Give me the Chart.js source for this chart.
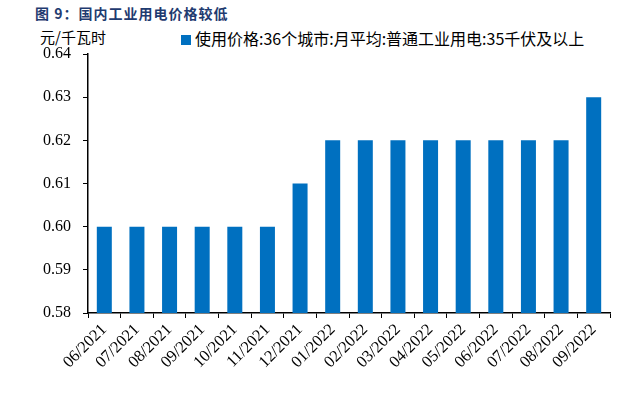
<!DOCTYPE html>
<html lang="zh">
<head>
    <meta charset="utf-8">
    <title>国内工业用电价格较低</title>
    <script src="https://cdn.jsdelivr.net/npm/chart.js@4/dist/chart.umd.min.js"></script>
    <style>
        body { margin: 0; background: #fff; }
        #wrap { position: relative; width: 630px; height: 395px; overflow: hidden; }
        #title { position: absolute; left: 35px; top: 3px; font: bold 14px "Noto Sans CJK SC"; color: #1f3b70; letter-spacing: 1px; }
        #unit { position: absolute; left: 40px; top: 26px; font: 15px "Noto Sans CJK SC"; color: #000; }
        #legend { position: absolute; left: 181px; top: 26px; font: 16px "Noto Sans CJK SC"; color: #000; white-space: nowrap; }
        #legend span { display: inline-block; width: 10px; height: 10px; background: #0070C0; margin-right: 4px; }
        canvas { position: absolute; left: 0; top: 0; }
    </style>
</head>
<body>
<div id="wrap">
    <div id="title">图 9：国内工业用电价格较低</div>
    <div id="unit">元/千瓦时</div>
    <div id="legend"><span></span>使用价格:36个城市:月平均:普通工业用电:35千伏及以上</div>
    <canvas id="myChart" width="630" height="395"></canvas>
</div>
<script>
var months = ['06/2021', '07/2021', '08/2021', '09/2021', '10/2021', '11/2021', '12/2021',
    '01/2022', '02/2022', '03/2022', '04/2022', '05/2022', '06/2022', '07/2022', '08/2022', '09/2022'];
var prices = [0.60, 0.60, 0.60, 0.60, 0.60, 0.60, 0.61, 0.62, 0.62, 0.62, 0.62, 0.62, 0.62, 0.62, 0.62, 0.63];
var seriesName = '使用价格:36个城市:月平均:普通工业用电:35千伏及以上';

var serif = 'Liberation Serif';

var ctx = document.getElementById('myChart').getContext('2d');
var myChart = new Chart(ctx, {
    type: 'bar',
    data: {
        labels: months,
        datasets: [{
            label: seriesName,
            data: prices,
            backgroundColor: '#0070C0',
            categoryPercentage: 1,
            barPercentage: 0.46
        }]
    },
    options: {
        responsive: false,
        animation: false,
        layout: { padding: { top: 54, right: 20, left: 0, bottom: 0 } },
        plugins: {
            legend: { display: false },
            tooltip: { enabled: false }
        },
        scales: {
            x: {
                offset: true,
                grid: { offset: true, drawOnChartArea: false, color: '#000', tickLength: 5 },
                border: { color: '#000', width: 1.5 },
                ticks: {
                    color: '#000', font: { family: serif, size: 16.5 },
                    minRotation: 45, maxRotation: 45, padding: 2
                },
                afterFit: function (s) { s.height = 82; }
            },
            y: {
                min: 0.58, max: 0.64,
                grid: { drawOnChartArea: false, color: '#000', tickLength: 5 },
                border: { color: '#000', width: 1.5 },
                ticks: {
                    stepSize: 0.01, color: '#000', font: { family: serif, size: 16 }, padding: 12,
                    callback: function (v) { return v.toFixed(2); }
                },
                afterFit: function (s) { s.width = 88; }
            }
        }
    }
});
</script>
</body>
</html>
